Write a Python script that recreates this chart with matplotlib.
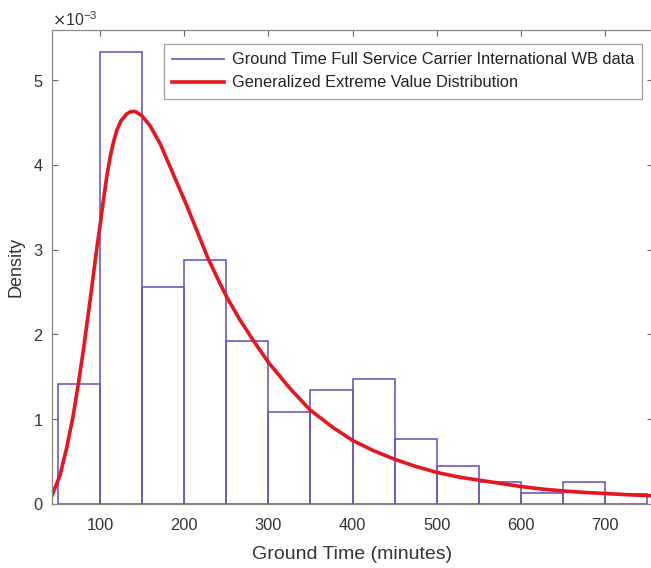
import matplotlib.pyplot as plt
from matplotlib.lines import Line2D
from matplotlib.ticker import ScalarFormatter

plt.rcParams['font.family'] = ['Liberation Sans', 'DejaVu Sans']

# histogram of ground times (density, in units of 1e-3)
bin_edges = [50, 100, 150, 200, 250, 300, 350, 400, 450, 500, 550, 600, 650, 700, 750]
bin_density = [1.42, 5.33, 2.56, 2.88, 1.92, 1.09, 1.34, 1.47, 0.77, 0.45, 0.26, 0.13, 0.26, 0.12]

# fitted GEV density (units of 1e-3)
gev_x = [43.0, 52.5, 60.4, 68.3, 74.2, 80.2, 88.1, 96.0, 100.0, 104.0, 108.0, 112.0,
         116.0, 120.0, 125.0, 131.7, 136.0, 141.7, 149.6, 159.5, 171.4, 187.0, 203.0,
         214.8, 228.6, 242.5, 250.5, 266.3, 282.0, 300.0, 325.0, 349.4, 377.0, 400.0,
         424.6, 450.0, 476.0, 501.0, 527.6, 551.0, 575.0, 600.8, 626.5, 651.0, 678.0,
         700.6, 725.5, 757.0]
gev_y = [0.10, 0.34, 0.66, 1.05, 1.415, 1.81, 2.39, 3.00, 3.28, 3.58, 3.86, 4.09,
         4.27, 4.41, 4.52, 4.60, 4.625, 4.63, 4.58, 4.46, 4.25, 3.89, 3.52,
         3.23, 2.89, 2.60, 2.44, 2.17, 1.93, 1.67, 1.37, 1.11, 0.90, 0.75,
         0.63, 0.527, 0.44, 0.37, 0.315, 0.28, 0.244, 0.205, 0.175, 0.153, 0.135,
         0.124, 0.11, 0.097]

scale = 1e-3
hist_color = '#6F58C0'
curve_color = '#E8141E'

fig = plt.figure(figsize=(6.51, 5.68), dpi=100)
ax = fig.add_axes([52 / 651, 64 / 568, 601 / 651, 474 / 568])

lefts = bin_edges[:-1]
widths = [b - a for a, b in zip(bin_edges[:-1], bin_edges[1:])]
ax.bar(lefts, [d * scale for d in bin_density], width=widths, align='edge',
       fill=False, edgecolor=hist_color, linewidth=1.2)
ax.plot(gev_x, [v * scale for v in gev_y], color=curve_color, linewidth=2.6,
        solid_joinstyle='round')

ax.set_xlim(43, 756.8)
ax.set_ylim(0, 5.59e-3)
ax.set_xticks([100, 200, 300, 400, 500, 600, 700])
ax.set_yticks([0, 1e-3, 2e-3, 3e-3, 4e-3, 5e-3])

fmt = ScalarFormatter(useMathText=True)
fmt.set_powerlimits((-2, 2))
ax.yaxis.set_major_formatter(fmt)
ax.yaxis.get_offset_text().set_fontsize(11.5)
ax.yaxis.get_offset_text().set_color('#444444')

ax.tick_params(direction='in', top=True, right=True, length=4, width=0.8,
               colors='#666666', labelcolor='#333333', labelsize=11.8)
ax.tick_params(axis='x', pad=10)
ax.tick_params(axis='y', pad=6)
for s in ax.spines.values():
    s.set_color('#888888')
    s.set_linewidth(0.9)

ax.set_xlabel('Ground Time (minutes)', fontsize=14, color='#333333', labelpad=9.5)
ax.set_ylabel('Density', fontsize=13, color='#333333', labelpad=6)

handles = [Line2D([], [], color='#7E6CC8', linewidth=1.4),
           Line2D([], [], color=curve_color, linewidth=2.6)]
labels = ['Ground Time Full Service Carrier International WB data',
          'Generalized Extreme Value Distribution']
leg = ax.legend(handles, labels, loc='upper right', bbox_to_anchor=(0.982, 0.970),
                borderaxespad=0, fancybox=False, fontsize=11.8, handlelength=3.2,
                handletextpad=0.45, labelspacing=0.49, borderpad=0.5)
leg.get_frame().set_edgecolor('#888888')
leg.get_frame().set_linewidth(0.9)
for t in leg.get_texts():
    t.set_color('#222222')

fig.savefig('out.png', dpi=100)
